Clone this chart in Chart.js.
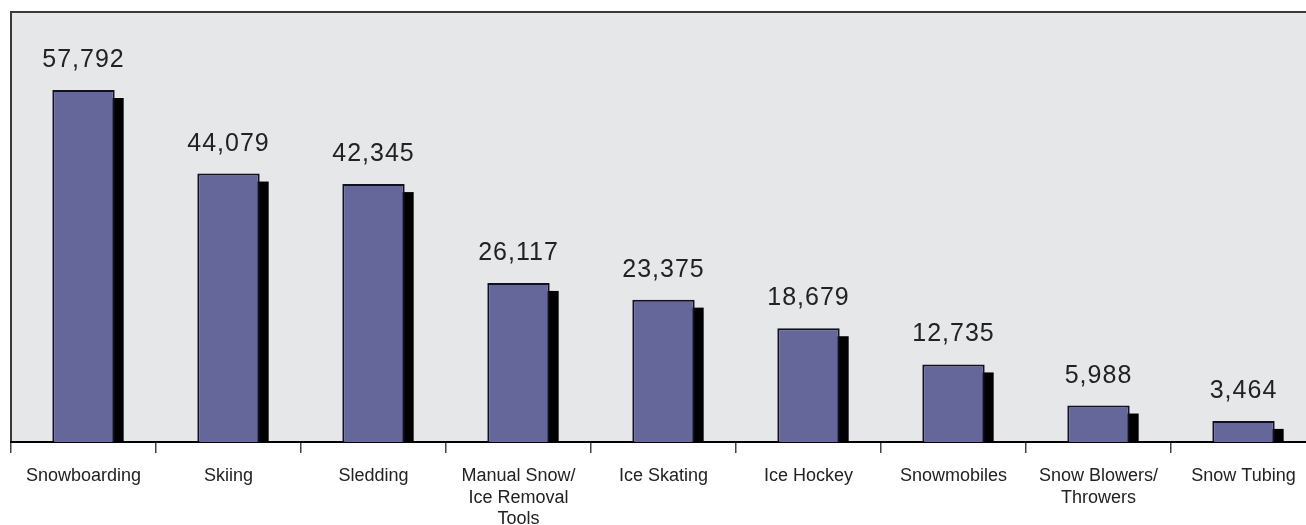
<!DOCTYPE html>
<html>
<head>
<meta charset="utf-8">
<script src="https://cdn.jsdelivr.net/npm/chart.js@4/dist/chart.umd.min.js"></script>
<style>
  html, body { margin: 0; padding: 0; background: #fff; overflow: hidden; }
  #wrap { width: 1306px; height: 525px; overflow: hidden; }
</style>
</head>
<body>
<div id="wrap"><canvas id="myChart" width="1316" height="525"></canvas></div>
<script>
// winter sports injuries by activity
const categories = [
  'Snowboarding', 'Skiing', 'Sledding',
  ['Manual Snow/', 'Ice Removal', 'Tools'],
  'Ice Skating', 'Ice Hockey', 'Snowmobiles',
  ['Snow Blowers/', 'Throwers'], 'Snow Tubing'
];
const injuries = [57792, 44079, 42345, 26117, 23375, 18679, 12735, 5988, 3464];
const yMax = 70600;

const barColor = '#65669a';
const textColor = '#222';

// gray plot background + left/top frame
const backdrop = {
  id: 'backdrop',
  beforeDraw(chart) {
    const { ctx, chartArea: a } = chart;
    ctx.save();
    ctx.fillStyle = '#e6e7e8';
    ctx.fillRect(a.left, a.top, a.right - a.left, a.bottom - a.top);
    ctx.strokeStyle = '#3a3a3a';
    ctx.lineWidth = 2;
    ctx.beginPath();
    ctx.moveTo(a.left, a.bottom);
    ctx.lineTo(a.left, a.top);
    ctx.lineTo(a.right, a.top);
    ctx.stroke();
    ctx.restore();
  }
};

// black drop shadow behind each bar
const barShadow = {
  id: 'barShadow',
  beforeDatasetsDraw(chart) {
    const { ctx } = chart;
    const meta = chart.getDatasetMeta(0);
    ctx.save();
    ctx.fillStyle = '#000';
    meta.data.forEach(bar => {
      const p = bar.getProps(['x', 'y', 'base', 'width'], true);
      const left = p.x - p.width / 2 + 9;
      const top = p.y + 8;
      ctx.fillRect(left, top, p.width, p.base - top);
    });
    ctx.restore();
  }
};

// value labels above bars
const valueLabels = {
  id: 'valueLabels',
  afterDatasetsDraw(chart) {
    const { ctx } = chart;
    const meta = chart.getDatasetMeta(0);
    ctx.save();
    ctx.fillStyle = textColor;
    ctx.font = '25px "Liberation Sans", Arial, sans-serif';
    ctx.letterSpacing = '1px';
    ctx.textAlign = 'center';
    ctx.textBaseline = 'alphabetic';
    meta.data.forEach((bar, i) => {
      ctx.fillText(injuries[i].toLocaleString('en-US'), bar.x, bar.y - 23);
    });
    ctx.restore();
  }
};

new Chart(document.getElementById('myChart').getContext('2d'), {
  type: 'bar',
  data: {
    labels: categories,
    datasets: [{
      data: injuries,
      backgroundColor: barColor,
      borderColor: '#101020',
      borderWidth: 2,
      borderSkipped: 'bottom',
      categoryPercentage: 1,
      barPercentage: 0.43
    }]
  },
  options: {
    responsive: false,
    animation: false,
    devicePixelRatio: 1,
    layout: { padding: { left: 11, top: 12, right: 0, bottom: 0 } },
    plugins: {
      legend: { display: false },
      tooltip: { enabled: false }
    },
    scales: {
      y: {
        display: false,
        min: 0,
        max: yMax
      },
      x: {
        offset: true,
        afterFit(scale) { scale.height = 83; },
        border: { display: true, color: '#000', width: 2 },
        grid: {
          offset: true,
          drawOnChartArea: false,
          drawTicks: true,
          tickLength: 11,
          color: '#444',
          lineWidth: 1.5
        },
        ticks: {
          color: textColor,
          maxRotation: 0,
          autoSkip: false,
          padding: 13,
          font: { family: '"Liberation Sans", Arial, sans-serif', size: 18, lineHeight: 1.17 }
        }
      }
    }
  },
  plugins: [backdrop, barShadow, valueLabels]
});
</script>
</body>
</html>
